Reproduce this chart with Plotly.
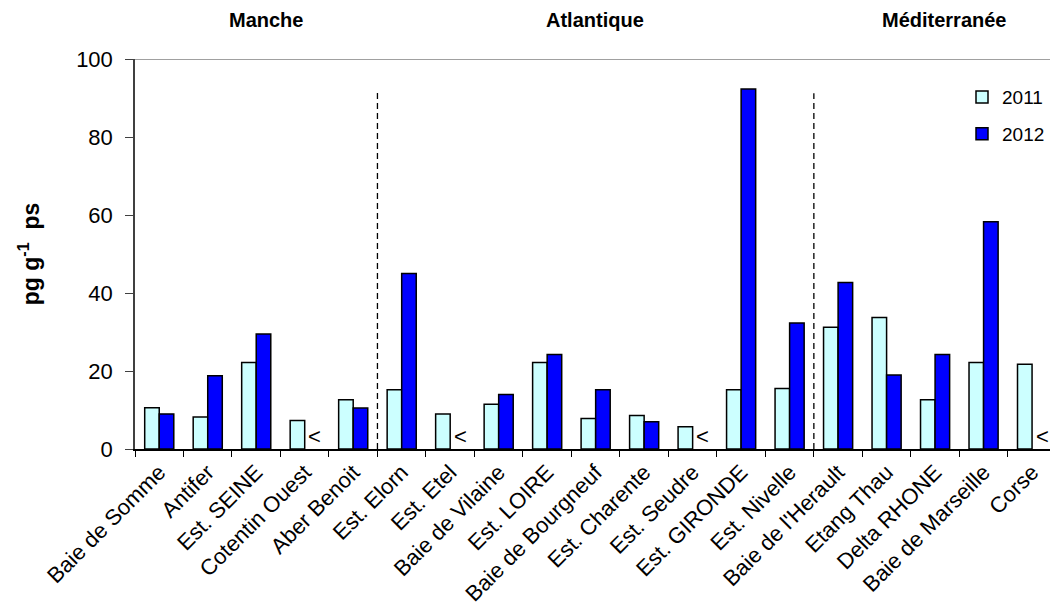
import plotly.graph_objects as go

categories = ["Baie de Somme", "Antifer", "Est. SEINE", "Cotentin Ouest", "Aber Benoit",
              "Est. Elorn", "Est. Etel", "Baie de Vilaine", "Est. LOIRE", "Baie de Bourgneuf",
              "Est. Charente", "Est. Seudre", "Est. GIRONDE", "Est. Nivelle", "Baie de l'Herault",
              "Etang Thau", "Delta RHONE", "Baie de Marseille", "Corse"]
v2011 = [10.6, 8.2, 22.2, 7.3, 12.6, 15.2, 9.0, 11.5, 22.2, 7.8,
         8.6, 5.7, 15.2, 15.5, 31.2, 33.7, 12.6, 22.2, 21.7]
v2012 = [9.0, 18.8, 29.5, None, 10.5, 45.0, None, 14.0, 24.2, 15.2,
         7.0, None, 92.3, 32.3, 42.7, 19.0, 24.2, 58.3, None]
below_limit = [c for c, v in zip(categories, v2012) if v is None]
regions = ["Manche", "Atlantique", "Méditerranée"]
region_pos = [2.2, 8.98, 16.2]
separators = [4.5, 13.5]
separator_tops = [92.0, 91.2]
y_ticks = [0, 20, 40, 60, 80, 100]

FONT = "Liberation Sans, Arial, sans-serif"

fig = go.Figure()
fig.add_trace(go.Bar(name="2011", x=categories, y=v2011, legendgroup="a",
                     marker=dict(color="#CCFFFF", line=dict(color="#000000", width=1.5))))
fig.add_trace(go.Bar(name="2012", x=categories, y=v2012, legendgroup="b",
                     marker=dict(color="#0000FF", line=dict(color="#000000", width=1.5))))

for c in below_limit:
    fig.add_annotation(x=c, y=3.3, xref="x", yref="y", text="<", showarrow=False,
                       xshift=10, yanchor="middle",
                       font=dict(family=FONT, size=22, color="#000000"))

for x, top in zip(separators, separator_tops):
    fig.add_shape(type="line", xref="x", yref="y", x0=x, x1=x, y0=0, y1=top,
                  line=dict(color="#000000", width=1.3, dash="6px,4px"))

fig.add_shape(type="line", xref="paper", yref="y", x0=0, x1=1, y0=100, y1=100,
              line=dict(color="#808080", width=1.5))

for r, p in zip(regions, region_pos):
    fig.add_annotation(x=p, y=1.0, xref="x", yref="paper", yanchor="middle", yshift=39,
                       text="<b>%s</b>" % r, showarrow=False,
                       font=dict(family=FONT, size=20, color="#000000"))

fig.update_layout(
    width=1050, height=615,
    margin=dict(l=135, r=0, t=59, b=166),
    paper_bgcolor="white", plot_bgcolor="white",
    barmode="group", bargap=0.40, bargroupgap=0,
    font=dict(family=FONT, color="#000000"),
    showlegend=True,
    legend=dict(x=1.0, y=0.951, xanchor="right", yanchor="top",
                font=dict(family=FONT, size=19), bgcolor="rgba(0,0,0,0)",
                itemwidth=30, tracegroupgap=9),
    xaxis=dict(range=[-0.5, 18.37], tickangle=-45, tickson="boundaries",
               ticks="outside", ticklen=6, tickcolor="#000000",
               showline=True, linecolor="#000000", linewidth=1.5,
               tickfont=dict(family=FONT, size=22), showgrid=False, fixedrange=True,
               automargin=False),
    yaxis=dict(range=[0, 100], tickvals=y_ticks, ticks="outside", ticklen=8,
               tickcolor="#404040", showline=True, linecolor="#404040", linewidth=1.5,
               tickfont=dict(family=FONT, size=22), showgrid=False, zeroline=False,
               ticklabelstandoff=8, automargin=False,
               title=dict(text="<b>pg g<sup>-1</sup>  ps</b>", font=dict(family=FONT, size=23),
                          standoff=30)),
)

fig.write_html("out.html", config={"displayModeBar": False},
               post_script="document.body.style.margin='0';document.body.style.overflow='hidden';")
